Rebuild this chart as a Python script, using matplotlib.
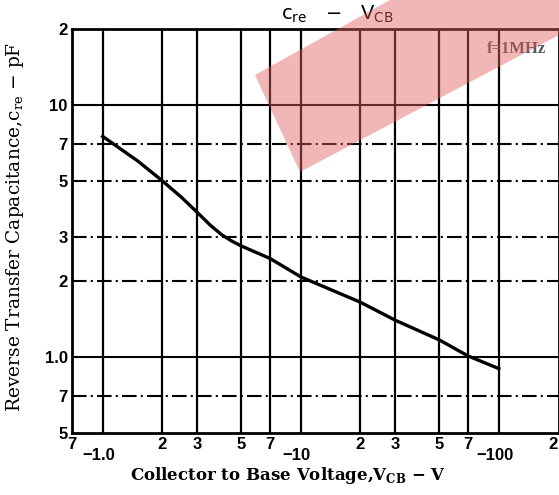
import matplotlib
matplotlib.use('Agg')
import matplotlib.pyplot as plt
import matplotlib.transforms as mtransforms
from matplotlib.patches import Polygon

# reverse transfer capacitance vs collector-base voltage (|V_CB| in volts)
vcb = [1, 1.5, 2, 2.5, 3, 3.5, 4, 4.5, 5, 7, 10, 20, 30, 50, 70, 100]
cre = [7.5, 6.0, 5.0, 4.3, 3.75, 3.33, 3.05, 2.88, 2.76, 2.46, 2.08, 1.65, 1.40, 1.17, 1.01, 0.90]

x_ticks = [0.7, 1, 2, 3, 5, 7, 10, 20, 30, 50, 70, 100, 200]
x_labels = ['7', '\u22121.0', '2', '3', '5', '7', '\u221210', '2', '3', '5', '7', '\u2212100', '2']
y_ticks = [0.5, 0.7, 1, 2, 3, 5, 7, 10, 20]
y_labels = ['5', '7', '1.0', '2', '3', '5', '7', '10', '2']

x_grid = [1, 2, 3, 5, 7, 10, 20, 30, 50, 70, 100]
y_grid_solid = [1, 10]
y_grid_dash = [0.7, 2, 3, 5, 7]

fig = plt.figure(figsize=(5.59, 4.95), dpi=100)
ax = fig.add_axes([72 / 559, 62 / 495, 486.5 / 559, 404 / 495])

ax.set_xscale('log')
ax.set_yscale('log')
ax.set_xlim(0.7, 200)
ax.set_ylim(0.5, 20)

for x in x_grid:
    ax.axvline(x, color='black', lw=1.6, zorder=1)
for y in y_grid_solid:
    ax.axhline(y, color='black', lw=1.5, zorder=1)
for y in y_grid_dash:
    ax.axhline(y, color='black', lw=1.5, ls=(0, (7, 2, 1, 2)), zorder=1)

ax.plot(vcb, cre, color='black', lw=2.4, zorder=3)

ax.xaxis.set_major_locator(matplotlib.ticker.FixedLocator(x_ticks))
ax.yaxis.set_major_locator(matplotlib.ticker.FixedLocator(y_ticks))
ax.xaxis.set_minor_locator(matplotlib.ticker.NullLocator())
ax.yaxis.set_minor_locator(matplotlib.ticker.NullLocator())
ax.set_xticklabels(x_labels, fontsize=12, fontweight='bold', family='Liberation Sans')
ax.set_yticklabels(y_labels, fontsize=12, fontweight='bold', family='Liberation Sans')
ax.tick_params(length=0, pad=3)

xlabs = ax.get_xticklabels()
# the minus labels sit a bit lower than the single digits
for lab in xlabs:
    if lab.get_text().startswith('\u2212'):
        off = mtransforms.ScaledTranslation(-3 / 72, -8 / 72, fig.dpi_scale_trans)
        lab.set_transform(lab.get_transform() + off)
# last label runs into the right edge
xlabs[-1].set_transform(xlabs[-1].get_transform() +
                        mtransforms.ScaledTranslation(-4 / 72, 0, fig.dpi_scale_trans))

for s in ax.spines.values():
    s.set_linewidth(2)

ax.set_xlabel('Collector to Base Voltage,V$_{\\mathregular{CB}}$ \u2212 V',
              fontsize=12, fontweight='bold', family='DejaVu Serif')
ax.xaxis.set_label_coords(0.445, -0.08)
ax.set_ylabel('Reverse Transfer Capacitance,c$_{\\mathregular{re}}$ \u2212 pF',
              fontsize=13.4, family='DejaVu Serif')
ax.yaxis.set_label_coords(-0.095, 0.51)

fig.text(337 / 559, 1 - 14 / 495, 'c$_{\\mathregular{re}}$   \u2212   V$_{\\mathregular{CB}}$',
         fontsize=14, family='DejaVu Sans', ha='center', va='center')
ax.text(0.975, 0.95, 'f=1MHz', transform=ax.transAxes, fontsize=12,
        fontweight='bold', family='Liberation Serif', ha='right', va='center',
        color='#555555', zorder=5)

# faint red watermark band
band = Polygon([(255 / 559, 1 - 75 / 495), (390 / 559, 1.0), (1.0, 1.0),
                (1.0, 1 - 35 / 495), (300 / 559, 1 - 172 / 495)],
               closed=True, transform=fig.transFigure, facecolor='#e06060',
               alpha=0.45, edgecolor='none', zorder=10)
fig.patches.append(band)

fig.savefig('out.png', dpi=100)
